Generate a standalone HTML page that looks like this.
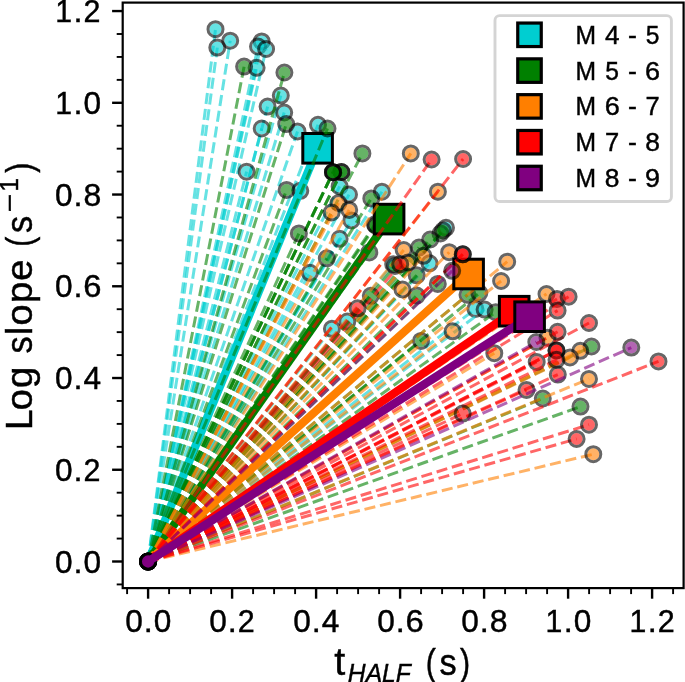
<!DOCTYPE html>
<html><head><meta charset="utf-8"><style>
html,body{margin:0;padding:0;background:#fff;}
svg{display:block;will-change:transform;}
text{font-family:"Liberation Sans",sans-serif;fill:#000;stroke:#000;stroke-width:0.45px;}
</style></head><body>
<svg width="685" height="682" viewBox="0 0 685 682">
<rect width="685" height="682" fill="#fff"/>
<clipPath id="ax"><rect x="122.7" y="2.6" width="560.9" height="585.5"/></clipPath>
<g clip-path="url(#ax)">
<line x1="148.1" y1="561.5" x2="215.5" y2="29.2" stroke="#00ced1" stroke-opacity="0.6" stroke-width="3.0" stroke-dasharray="11.1 4.8"/>
<circle cx="215.5" cy="29.2" r="6" fill="#00ced1" fill-opacity="0.6"/>
<circle cx="215.5" cy="29.2" r="7.5" fill="none" stroke="#000" stroke-opacity="0.6" stroke-width="3.0"/>
<line x1="148.1" y1="561.5" x2="230.2" y2="40.7" stroke="#00ced1" stroke-opacity="0.6" stroke-width="3.0" stroke-dasharray="11.1 4.8"/>
<circle cx="230.2" cy="40.7" r="6" fill="#00ced1" fill-opacity="0.6"/>
<circle cx="230.2" cy="40.7" r="7.5" fill="none" stroke="#000" stroke-opacity="0.6" stroke-width="3.0"/>
<line x1="148.1" y1="561.5" x2="217.3" y2="47.6" stroke="#00ced1" stroke-opacity="0.6" stroke-width="3.0" stroke-dasharray="11.1 4.8"/>
<circle cx="217.3" cy="47.6" r="6" fill="#00ced1" fill-opacity="0.6"/>
<circle cx="217.3" cy="47.6" r="7.5" fill="none" stroke="#000" stroke-opacity="0.6" stroke-width="3.0"/>
<line x1="148.1" y1="561.5" x2="261.7" y2="41.4" stroke="#00ced1" stroke-opacity="0.6" stroke-width="3.0" stroke-dasharray="11.1 4.8"/>
<circle cx="261.7" cy="41.4" r="6" fill="#00ced1" fill-opacity="0.6"/>
<circle cx="261.7" cy="41.4" r="7.5" fill="none" stroke="#000" stroke-opacity="0.6" stroke-width="3.0"/>
<line x1="148.1" y1="561.5" x2="258" y2="46.5" stroke="#00ced1" stroke-opacity="0.6" stroke-width="3.0" stroke-dasharray="11.1 4.8"/>
<circle cx="258" cy="46.5" r="6" fill="#00ced1" fill-opacity="0.6"/>
<circle cx="258" cy="46.5" r="7.5" fill="none" stroke="#000" stroke-opacity="0.6" stroke-width="3.0"/>
<line x1="148.1" y1="561.5" x2="266.1" y2="49" stroke="#00ced1" stroke-opacity="0.6" stroke-width="3.0" stroke-dasharray="11.1 4.8"/>
<circle cx="266.1" cy="49" r="6" fill="#00ced1" fill-opacity="0.6"/>
<circle cx="266.1" cy="49" r="7.5" fill="none" stroke="#000" stroke-opacity="0.6" stroke-width="3.0"/>
<line x1="148.1" y1="561.5" x2="256.6" y2="67.8" stroke="#00ced1" stroke-opacity="0.6" stroke-width="3.0" stroke-dasharray="11.1 4.8"/>
<circle cx="256.6" cy="67.8" r="6" fill="#00ced1" fill-opacity="0.6"/>
<circle cx="256.6" cy="67.8" r="7.5" fill="none" stroke="#000" stroke-opacity="0.6" stroke-width="3.0"/>
<line x1="148.1" y1="561.5" x2="280.8" y2="95.6" stroke="#00ced1" stroke-opacity="0.6" stroke-width="3.0" stroke-dasharray="11.1 4.8"/>
<circle cx="280.8" cy="95.6" r="6" fill="#00ced1" fill-opacity="0.6"/>
<circle cx="280.8" cy="95.6" r="7.5" fill="none" stroke="#000" stroke-opacity="0.6" stroke-width="3.0"/>
<line x1="148.1" y1="561.5" x2="267.6" y2="106.6" stroke="#00ced1" stroke-opacity="0.6" stroke-width="3.0" stroke-dasharray="11.1 4.8"/>
<circle cx="267.6" cy="106.6" r="6" fill="#00ced1" fill-opacity="0.6"/>
<circle cx="267.6" cy="106.6" r="7.5" fill="none" stroke="#000" stroke-opacity="0.6" stroke-width="3.0"/>
<line x1="148.1" y1="561.5" x2="284.2" y2="112.5" stroke="#00ced1" stroke-opacity="0.6" stroke-width="3.0" stroke-dasharray="11.1 4.8"/>
<circle cx="284.2" cy="112.5" r="6" fill="#00ced1" fill-opacity="0.6"/>
<circle cx="284.2" cy="112.5" r="7.5" fill="none" stroke="#000" stroke-opacity="0.6" stroke-width="3.0"/>
<line x1="148.1" y1="561.5" x2="261.7" y2="128.5" stroke="#00ced1" stroke-opacity="0.6" stroke-width="3.0" stroke-dasharray="11.1 4.8"/>
<circle cx="261.7" cy="128.5" r="6" fill="#00ced1" fill-opacity="0.6"/>
<circle cx="261.7" cy="128.5" r="7.5" fill="none" stroke="#000" stroke-opacity="0.6" stroke-width="3.0"/>
<line x1="148.1" y1="561.5" x2="297.5" y2="131.4" stroke="#00ced1" stroke-opacity="0.6" stroke-width="3.0" stroke-dasharray="11.1 4.8"/>
<circle cx="297.5" cy="131.4" r="6" fill="#00ced1" fill-opacity="0.6"/>
<circle cx="297.5" cy="131.4" r="7.5" fill="none" stroke="#000" stroke-opacity="0.6" stroke-width="3.0"/>
<line x1="148.1" y1="561.5" x2="318" y2="124.8" stroke="#00ced1" stroke-opacity="0.6" stroke-width="3.0" stroke-dasharray="11.1 4.8"/>
<circle cx="318" cy="124.8" r="6" fill="#00ced1" fill-opacity="0.6"/>
<circle cx="318" cy="124.8" r="7.5" fill="none" stroke="#000" stroke-opacity="0.6" stroke-width="3.0"/>
<line x1="148.1" y1="561.5" x2="246.6" y2="171.7" stroke="#00ced1" stroke-opacity="0.6" stroke-width="3.0" stroke-dasharray="11.1 4.8"/>
<circle cx="246.6" cy="171.7" r="6" fill="#00ced1" fill-opacity="0.6"/>
<circle cx="246.6" cy="171.7" r="7.5" fill="none" stroke="#000" stroke-opacity="0.6" stroke-width="3.0"/>
<line x1="148.1" y1="561.5" x2="300.3" y2="190.8" stroke="#00ced1" stroke-opacity="0.6" stroke-width="3.0" stroke-dasharray="11.1 4.8"/>
<circle cx="300.3" cy="190.8" r="6" fill="#00ced1" fill-opacity="0.6"/>
<circle cx="300.3" cy="190.8" r="7.5" fill="none" stroke="#000" stroke-opacity="0.6" stroke-width="3.0"/>
<line x1="148.1" y1="561.5" x2="339.6" y2="186.4" stroke="#00ced1" stroke-opacity="0.6" stroke-width="3.0" stroke-dasharray="11.1 4.8"/>
<circle cx="339.6" cy="186.4" r="6" fill="#00ced1" fill-opacity="0.6"/>
<circle cx="339.6" cy="186.4" r="7.5" fill="none" stroke="#000" stroke-opacity="0.6" stroke-width="3.0"/>
<line x1="148.1" y1="561.5" x2="349" y2="194.6" stroke="#00ced1" stroke-opacity="0.6" stroke-width="3.0" stroke-dasharray="11.1 4.8"/>
<circle cx="349" cy="194.6" r="6" fill="#00ced1" fill-opacity="0.6"/>
<circle cx="349" cy="194.6" r="7.5" fill="none" stroke="#000" stroke-opacity="0.6" stroke-width="3.0"/>
<line x1="148.1" y1="561.5" x2="381.9" y2="191.7" stroke="#00ced1" stroke-opacity="0.6" stroke-width="3.0" stroke-dasharray="11.1 4.8"/>
<circle cx="381.9" cy="191.7" r="6" fill="#00ced1" fill-opacity="0.6"/>
<circle cx="381.9" cy="191.7" r="7.5" fill="none" stroke="#000" stroke-opacity="0.6" stroke-width="3.0"/>
<line x1="148.1" y1="561.5" x2="351.4" y2="220.4" stroke="#00ced1" stroke-opacity="0.6" stroke-width="3.0" stroke-dasharray="11.1 4.8"/>
<circle cx="351.4" cy="220.4" r="6" fill="#00ced1" fill-opacity="0.6"/>
<circle cx="351.4" cy="220.4" r="7.5" fill="none" stroke="#000" stroke-opacity="0.6" stroke-width="3.0"/>
<line x1="148.1" y1="561.5" x2="339.6" y2="238.8" stroke="#00ced1" stroke-opacity="0.6" stroke-width="3.0" stroke-dasharray="11.1 4.8"/>
<circle cx="339.6" cy="238.8" r="6" fill="#00ced1" fill-opacity="0.6"/>
<circle cx="339.6" cy="238.8" r="7.5" fill="none" stroke="#000" stroke-opacity="0.6" stroke-width="3.0"/>
<line x1="148.1" y1="561.5" x2="309.9" y2="272.8" stroke="#00ced1" stroke-opacity="0.6" stroke-width="3.0" stroke-dasharray="11.1 4.8"/>
<circle cx="309.9" cy="272.8" r="6" fill="#00ced1" fill-opacity="0.6"/>
<circle cx="309.9" cy="272.8" r="7.5" fill="none" stroke="#000" stroke-opacity="0.6" stroke-width="3.0"/>
<line x1="148.1" y1="561.5" x2="446" y2="227.8" stroke="#00ced1" stroke-opacity="0.6" stroke-width="3.0" stroke-dasharray="11.1 4.8"/>
<circle cx="446" cy="227.8" r="6" fill="#00ced1" fill-opacity="0.6"/>
<circle cx="446" cy="227.8" r="7.5" fill="none" stroke="#000" stroke-opacity="0.6" stroke-width="3.0"/>
<line x1="148.1" y1="561.5" x2="429.5" y2="263.3" stroke="#00ced1" stroke-opacity="0.6" stroke-width="3.0" stroke-dasharray="11.1 4.8"/>
<circle cx="429.5" cy="263.3" r="6" fill="#00ced1" fill-opacity="0.6"/>
<circle cx="429.5" cy="263.3" r="7.5" fill="none" stroke="#000" stroke-opacity="0.6" stroke-width="3.0"/>
<line x1="148.1" y1="561.5" x2="393.2" y2="264.2" stroke="#00ced1" stroke-opacity="0.6" stroke-width="3.0" stroke-dasharray="11.1 4.8"/>
<circle cx="393.2" cy="264.2" r="6" fill="#00ced1" fill-opacity="0.6"/>
<circle cx="393.2" cy="264.2" r="7.5" fill="none" stroke="#000" stroke-opacity="0.6" stroke-width="3.0"/>
<line x1="148.1" y1="561.5" x2="475.4" y2="308.9" stroke="#00ced1" stroke-opacity="0.6" stroke-width="3.0" stroke-dasharray="11.1 4.8"/>
<circle cx="475.4" cy="308.9" r="6" fill="#00ced1" fill-opacity="0.6"/>
<circle cx="475.4" cy="308.9" r="7.5" fill="none" stroke="#000" stroke-opacity="0.6" stroke-width="3.0"/>
<line x1="148.1" y1="561.5" x2="484.6" y2="309.6" stroke="#00ced1" stroke-opacity="0.6" stroke-width="3.0" stroke-dasharray="11.1 4.8"/>
<circle cx="484.6" cy="309.6" r="6" fill="#00ced1" fill-opacity="0.6"/>
<circle cx="484.6" cy="309.6" r="7.5" fill="none" stroke="#000" stroke-opacity="0.6" stroke-width="3.0"/>
<line x1="148.1" y1="561.5" x2="347.3" y2="321.5" stroke="#00ced1" stroke-opacity="0.6" stroke-width="3.0" stroke-dasharray="11.1 4.8"/>
<circle cx="347.3" cy="321.5" r="6" fill="#00ced1" fill-opacity="0.6"/>
<circle cx="347.3" cy="321.5" r="7.5" fill="none" stroke="#000" stroke-opacity="0.6" stroke-width="3.0"/>
<line x1="148.1" y1="561.5" x2="331.9" y2="328.8" stroke="#00ced1" stroke-opacity="0.6" stroke-width="3.0" stroke-dasharray="11.1 4.8"/>
<circle cx="331.9" cy="328.8" r="6" fill="#00ced1" fill-opacity="0.6"/>
<circle cx="331.9" cy="328.8" r="7.5" fill="none" stroke="#000" stroke-opacity="0.6" stroke-width="3.0"/>
<circle cx="148.1" cy="561.5" r="7.6" fill="#00ced1" stroke="#000" stroke-width="2.9"/>
<line x1="148.1" y1="561.5" x2="317.6" y2="148.3" stroke="#00ced1" stroke-width="8.3"/>
<rect x="302.8" y="133.5" width="29.6" height="29.6" fill="#00ced1" stroke="#000" stroke-width="3.0"/>
<line x1="148.1" y1="561.5" x2="244.1" y2="66.6" stroke="#008000" stroke-opacity="0.6" stroke-width="3.0" stroke-dasharray="11.1 4.8"/>
<circle cx="244.1" cy="66.6" r="6" fill="#008000" fill-opacity="0.6"/>
<circle cx="244.1" cy="66.6" r="7.5" fill="none" stroke="#000" stroke-opacity="0.6" stroke-width="3.0"/>
<line x1="148.1" y1="561.5" x2="284.4" y2="72.5" stroke="#008000" stroke-opacity="0.6" stroke-width="3.0" stroke-dasharray="11.1 4.8"/>
<circle cx="284.4" cy="72.5" r="6" fill="#008000" fill-opacity="0.6"/>
<circle cx="284.4" cy="72.5" r="7.5" fill="none" stroke="#000" stroke-opacity="0.6" stroke-width="3.0"/>
<line x1="148.1" y1="561.5" x2="286.2" y2="124.1" stroke="#008000" stroke-opacity="0.6" stroke-width="3.0" stroke-dasharray="11.1 4.8"/>
<circle cx="286.2" cy="124.1" r="6" fill="#008000" fill-opacity="0.6"/>
<circle cx="286.2" cy="124.1" r="7.5" fill="none" stroke="#000" stroke-opacity="0.6" stroke-width="3.0"/>
<line x1="148.1" y1="561.5" x2="327.5" y2="128.5" stroke="#008000" stroke-opacity="0.6" stroke-width="3.0" stroke-dasharray="11.1 4.8"/>
<circle cx="327.5" cy="128.5" r="6" fill="#008000" fill-opacity="0.6"/>
<circle cx="327.5" cy="128.5" r="7.5" fill="none" stroke="#000" stroke-opacity="0.6" stroke-width="3.0"/>
<line x1="148.1" y1="561.5" x2="286.6" y2="189.9" stroke="#008000" stroke-opacity="0.6" stroke-width="3.0" stroke-dasharray="11.1 4.8"/>
<circle cx="286.6" cy="189.9" r="6" fill="#008000" fill-opacity="0.6"/>
<circle cx="286.6" cy="189.9" r="7.5" fill="none" stroke="#000" stroke-opacity="0.6" stroke-width="3.0"/>
<line x1="148.1" y1="561.5" x2="362.4" y2="153.4" stroke="#008000" stroke-opacity="0.6" stroke-width="3.0" stroke-dasharray="11.1 4.8"/>
<circle cx="362.4" cy="153.4" r="6" fill="#008000" fill-opacity="0.6"/>
<circle cx="362.4" cy="153.4" r="7.5" fill="none" stroke="#000" stroke-opacity="0.6" stroke-width="3.0"/>
<line x1="148.1" y1="561.5" x2="341.4" y2="172" stroke="#008000" stroke-opacity="0.6" stroke-width="3.0" stroke-dasharray="11.1 4.8"/>
<circle cx="341.4" cy="172" r="6" fill="#008000" fill-opacity="0.6"/>
<circle cx="341.4" cy="172" r="7.5" fill="none" stroke="#000" stroke-opacity="0.6" stroke-width="3.0"/>
<line x1="148.1" y1="561.5" x2="341.4" y2="172" stroke="#008000" stroke-opacity="0.6" stroke-width="3.0" stroke-dasharray="11.1 4.8"/>
<circle cx="341.4" cy="172" r="6" fill="#008000" fill-opacity="0.6"/>
<circle cx="341.4" cy="172" r="7.5" fill="none" stroke="#000" stroke-opacity="0.6" stroke-width="3.0"/>
<line x1="148.1" y1="561.5" x2="333" y2="172.2" stroke="#008000" stroke-opacity="0.6" stroke-width="3.0" stroke-dasharray="11.1 4.8"/>
<circle cx="333" cy="172.2" r="6" fill="#008000" fill-opacity="0.6"/>
<circle cx="333" cy="172.2" r="7.5" fill="none" stroke="#000" stroke-opacity="0.6" stroke-width="3.0"/>
<line x1="148.1" y1="561.5" x2="333" y2="172.2" stroke="#008000" stroke-opacity="0.6" stroke-width="3.0" stroke-dasharray="11.1 4.8"/>
<circle cx="333" cy="172.2" r="6" fill="#008000" fill-opacity="0.6"/>
<circle cx="333" cy="172.2" r="7.5" fill="none" stroke="#000" stroke-opacity="0.6" stroke-width="3.0"/>
<line x1="148.1" y1="561.5" x2="333" y2="172.2" stroke="#008000" stroke-opacity="0.6" stroke-width="3.0" stroke-dasharray="11.1 4.8"/>
<circle cx="333" cy="172.2" r="6" fill="#008000" fill-opacity="0.6"/>
<circle cx="333" cy="172.2" r="7.5" fill="none" stroke="#000" stroke-opacity="0.6" stroke-width="3.0"/>
<line x1="148.1" y1="561.5" x2="371.3" y2="198.4" stroke="#008000" stroke-opacity="0.6" stroke-width="3.0" stroke-dasharray="11.1 4.8"/>
<circle cx="371.3" cy="198.4" r="6" fill="#008000" fill-opacity="0.6"/>
<circle cx="371.3" cy="198.4" r="7.5" fill="none" stroke="#000" stroke-opacity="0.6" stroke-width="3.0"/>
<line x1="148.1" y1="561.5" x2="375" y2="224.3" stroke="#008000" stroke-opacity="0.6" stroke-width="3.0" stroke-dasharray="11.1 4.8"/>
<circle cx="375" cy="224.3" r="6" fill="#008000" fill-opacity="0.6"/>
<circle cx="375" cy="224.3" r="7.5" fill="none" stroke="#000" stroke-opacity="0.6" stroke-width="3.0"/>
<line x1="148.1" y1="561.5" x2="375.6" y2="225.5" stroke="#008000" stroke-opacity="0.6" stroke-width="3.0" stroke-dasharray="11.1 4.8"/>
<circle cx="375.6" cy="225.5" r="6" fill="#008000" fill-opacity="0.6"/>
<circle cx="375.6" cy="225.5" r="7.5" fill="none" stroke="#000" stroke-opacity="0.6" stroke-width="3.0"/>
<line x1="148.1" y1="561.5" x2="298.9" y2="233.4" stroke="#008000" stroke-opacity="0.6" stroke-width="3.0" stroke-dasharray="11.1 4.8"/>
<circle cx="298.9" cy="233.4" r="6" fill="#008000" fill-opacity="0.6"/>
<circle cx="298.9" cy="233.4" r="7.5" fill="none" stroke="#000" stroke-opacity="0.6" stroke-width="3.0"/>
<line x1="148.1" y1="561.5" x2="369.3" y2="252.4" stroke="#008000" stroke-opacity="0.6" stroke-width="3.0" stroke-dasharray="11.1 4.8"/>
<circle cx="369.3" cy="252.4" r="6" fill="#008000" fill-opacity="0.6"/>
<circle cx="369.3" cy="252.4" r="7.5" fill="none" stroke="#000" stroke-opacity="0.6" stroke-width="3.0"/>
<line x1="148.1" y1="561.5" x2="326.8" y2="258.3" stroke="#008000" stroke-opacity="0.6" stroke-width="3.0" stroke-dasharray="11.1 4.8"/>
<circle cx="326.8" cy="258.3" r="6" fill="#008000" fill-opacity="0.6"/>
<circle cx="326.8" cy="258.3" r="7.5" fill="none" stroke="#000" stroke-opacity="0.6" stroke-width="3.0"/>
<line x1="148.1" y1="561.5" x2="440.5" y2="233.5" stroke="#008000" stroke-opacity="0.6" stroke-width="3.0" stroke-dasharray="11.1 4.8"/>
<circle cx="440.5" cy="233.5" r="6" fill="#008000" fill-opacity="0.6"/>
<circle cx="440.5" cy="233.5" r="7.5" fill="none" stroke="#000" stroke-opacity="0.6" stroke-width="3.0"/>
<line x1="148.1" y1="561.5" x2="443" y2="230.5" stroke="#008000" stroke-opacity="0.6" stroke-width="3.0" stroke-dasharray="11.1 4.8"/>
<circle cx="443" cy="230.5" r="6" fill="#008000" fill-opacity="0.6"/>
<circle cx="443" cy="230.5" r="7.5" fill="none" stroke="#000" stroke-opacity="0.6" stroke-width="3.0"/>
<line x1="148.1" y1="561.5" x2="430.2" y2="239.5" stroke="#008000" stroke-opacity="0.6" stroke-width="3.0" stroke-dasharray="11.1 4.8"/>
<circle cx="430.2" cy="239.5" r="6" fill="#008000" fill-opacity="0.6"/>
<circle cx="430.2" cy="239.5" r="7.5" fill="none" stroke="#000" stroke-opacity="0.6" stroke-width="3.0"/>
<line x1="148.1" y1="561.5" x2="419" y2="247.5" stroke="#008000" stroke-opacity="0.6" stroke-width="3.0" stroke-dasharray="11.1 4.8"/>
<circle cx="419" cy="247.5" r="6" fill="#008000" fill-opacity="0.6"/>
<circle cx="419" cy="247.5" r="7.5" fill="none" stroke="#000" stroke-opacity="0.6" stroke-width="3.0"/>
<line x1="148.1" y1="561.5" x2="395" y2="266" stroke="#008000" stroke-opacity="0.6" stroke-width="3.0" stroke-dasharray="11.1 4.8"/>
<circle cx="395" cy="266" r="6" fill="#008000" fill-opacity="0.6"/>
<circle cx="395" cy="266" r="7.5" fill="none" stroke="#000" stroke-opacity="0.6" stroke-width="3.0"/>
<line x1="148.1" y1="561.5" x2="416.7" y2="275.3" stroke="#008000" stroke-opacity="0.6" stroke-width="3.0" stroke-dasharray="11.1 4.8"/>
<circle cx="416.7" cy="275.3" r="6" fill="#008000" fill-opacity="0.6"/>
<circle cx="416.7" cy="275.3" r="7.5" fill="none" stroke="#000" stroke-opacity="0.6" stroke-width="3.0"/>
<line x1="148.1" y1="561.5" x2="437.8" y2="283.9" stroke="#008000" stroke-opacity="0.6" stroke-width="3.0" stroke-dasharray="11.1 4.8"/>
<circle cx="437.8" cy="283.9" r="6" fill="#008000" fill-opacity="0.6"/>
<circle cx="437.8" cy="283.9" r="7.5" fill="none" stroke="#000" stroke-opacity="0.6" stroke-width="3.0"/>
<line x1="148.1" y1="561.5" x2="416.7" y2="295.6" stroke="#008000" stroke-opacity="0.6" stroke-width="3.0" stroke-dasharray="11.1 4.8"/>
<circle cx="416.7" cy="295.6" r="6" fill="#008000" fill-opacity="0.6"/>
<circle cx="416.7" cy="295.6" r="7.5" fill="none" stroke="#000" stroke-opacity="0.6" stroke-width="3.0"/>
<line x1="148.1" y1="561.5" x2="467.5" y2="294.8" stroke="#008000" stroke-opacity="0.6" stroke-width="3.0" stroke-dasharray="11.1 4.8"/>
<circle cx="467.5" cy="294.8" r="6" fill="#008000" fill-opacity="0.6"/>
<circle cx="467.5" cy="294.8" r="7.5" fill="none" stroke="#000" stroke-opacity="0.6" stroke-width="3.0"/>
<line x1="148.1" y1="561.5" x2="479.3" y2="293.1" stroke="#008000" stroke-opacity="0.6" stroke-width="3.0" stroke-dasharray="11.1 4.8"/>
<circle cx="479.3" cy="293.1" r="6" fill="#008000" fill-opacity="0.6"/>
<circle cx="479.3" cy="293.1" r="7.5" fill="none" stroke="#000" stroke-opacity="0.6" stroke-width="3.0"/>
<line x1="148.1" y1="561.5" x2="495.7" y2="312.2" stroke="#008000" stroke-opacity="0.6" stroke-width="3.0" stroke-dasharray="11.1 4.8"/>
<circle cx="495.7" cy="312.2" r="6" fill="#008000" fill-opacity="0.6"/>
<circle cx="495.7" cy="312.2" r="7.5" fill="none" stroke="#000" stroke-opacity="0.6" stroke-width="3.0"/>
<line x1="148.1" y1="561.5" x2="370.8" y2="295.8" stroke="#008000" stroke-opacity="0.6" stroke-width="3.0" stroke-dasharray="11.1 4.8"/>
<circle cx="370.8" cy="295.8" r="6" fill="#008000" fill-opacity="0.6"/>
<circle cx="370.8" cy="295.8" r="7.5" fill="none" stroke="#000" stroke-opacity="0.6" stroke-width="3.0"/>
<line x1="148.1" y1="561.5" x2="421" y2="340.9" stroke="#008000" stroke-opacity="0.6" stroke-width="3.0" stroke-dasharray="11.1 4.8"/>
<circle cx="421" cy="340.9" r="6" fill="#008000" fill-opacity="0.6"/>
<circle cx="421" cy="340.9" r="7.5" fill="none" stroke="#000" stroke-opacity="0.6" stroke-width="3.0"/>
<line x1="148.1" y1="561.5" x2="591.5" y2="346.5" stroke="#008000" stroke-opacity="0.6" stroke-width="3.0" stroke-dasharray="11.1 4.8"/>
<circle cx="591.5" cy="346.5" r="6" fill="#008000" fill-opacity="0.6"/>
<circle cx="591.5" cy="346.5" r="7.5" fill="none" stroke="#000" stroke-opacity="0.6" stroke-width="3.0"/>
<line x1="148.1" y1="561.5" x2="542.8" y2="398.5" stroke="#008000" stroke-opacity="0.6" stroke-width="3.0" stroke-dasharray="11.1 4.8"/>
<circle cx="542.8" cy="398.5" r="6" fill="#008000" fill-opacity="0.6"/>
<circle cx="542.8" cy="398.5" r="7.5" fill="none" stroke="#000" stroke-opacity="0.6" stroke-width="3.0"/>
<line x1="148.1" y1="561.5" x2="580.5" y2="406.6" stroke="#008000" stroke-opacity="0.6" stroke-width="3.0" stroke-dasharray="11.1 4.8"/>
<circle cx="580.5" cy="406.6" r="6" fill="#008000" fill-opacity="0.6"/>
<circle cx="580.5" cy="406.6" r="7.5" fill="none" stroke="#000" stroke-opacity="0.6" stroke-width="3.0"/>
<circle cx="148.1" cy="561.5" r="7.6" fill="#008000" stroke="#000" stroke-width="2.9"/>
<line x1="148.1" y1="561.5" x2="389.1" y2="219.1" stroke="#008000" stroke-width="8.3"/>
<rect x="374.3" y="204.3" width="29.6" height="29.6" fill="#008000" stroke="#000" stroke-width="3.0"/>
<line x1="148.1" y1="561.5" x2="338.5" y2="203" stroke="#ff7f00" stroke-opacity="0.6" stroke-width="3.0" stroke-dasharray="11.1 4.8"/>
<circle cx="338.5" cy="203" r="6" fill="#ff7f00" fill-opacity="0.6"/>
<circle cx="338.5" cy="203" r="7.5" fill="none" stroke="#000" stroke-opacity="0.6" stroke-width="3.0"/>
<line x1="148.1" y1="561.5" x2="331.6" y2="212.5" stroke="#ff7f00" stroke-opacity="0.6" stroke-width="3.0" stroke-dasharray="11.1 4.8"/>
<circle cx="331.6" cy="212.5" r="6" fill="#ff7f00" fill-opacity="0.6"/>
<circle cx="331.6" cy="212.5" r="7.5" fill="none" stroke="#000" stroke-opacity="0.6" stroke-width="3.0"/>
<line x1="148.1" y1="561.5" x2="349.2" y2="209.9" stroke="#ff7f00" stroke-opacity="0.6" stroke-width="3.0" stroke-dasharray="11.1 4.8"/>
<circle cx="349.2" cy="209.9" r="6" fill="#ff7f00" fill-opacity="0.6"/>
<circle cx="349.2" cy="209.9" r="7.5" fill="none" stroke="#000" stroke-opacity="0.6" stroke-width="3.0"/>
<line x1="148.1" y1="561.5" x2="410.8" y2="153.4" stroke="#ff7f00" stroke-opacity="0.6" stroke-width="3.0" stroke-dasharray="11.1 4.8"/>
<circle cx="410.8" cy="153.4" r="6" fill="#ff7f00" fill-opacity="0.6"/>
<circle cx="410.8" cy="153.4" r="7.5" fill="none" stroke="#000" stroke-opacity="0.6" stroke-width="3.0"/>
<line x1="148.1" y1="561.5" x2="437.9" y2="191.7" stroke="#ff7f00" stroke-opacity="0.6" stroke-width="3.0" stroke-dasharray="11.1 4.8"/>
<circle cx="437.9" cy="191.7" r="6" fill="#ff7f00" fill-opacity="0.6"/>
<circle cx="437.9" cy="191.7" r="7.5" fill="none" stroke="#000" stroke-opacity="0.6" stroke-width="3.0"/>
<line x1="148.1" y1="561.5" x2="403.7" y2="250" stroke="#ff7f00" stroke-opacity="0.6" stroke-width="3.0" stroke-dasharray="11.1 4.8"/>
<circle cx="403.7" cy="250" r="6" fill="#ff7f00" fill-opacity="0.6"/>
<circle cx="403.7" cy="250" r="7.5" fill="none" stroke="#000" stroke-opacity="0.6" stroke-width="3.0"/>
<line x1="148.1" y1="561.5" x2="423.5" y2="255.8" stroke="#ff7f00" stroke-opacity="0.6" stroke-width="3.0" stroke-dasharray="11.1 4.8"/>
<circle cx="423.5" cy="255.8" r="6" fill="#ff7f00" fill-opacity="0.6"/>
<circle cx="423.5" cy="255.8" r="7.5" fill="none" stroke="#000" stroke-opacity="0.6" stroke-width="3.0"/>
<line x1="148.1" y1="561.5" x2="408" y2="262.5" stroke="#ff7f00" stroke-opacity="0.6" stroke-width="3.0" stroke-dasharray="11.1 4.8"/>
<circle cx="408" cy="262.5" r="6" fill="#ff7f00" fill-opacity="0.6"/>
<circle cx="408" cy="262.5" r="7.5" fill="none" stroke="#000" stroke-opacity="0.6" stroke-width="3.0"/>
<line x1="148.1" y1="561.5" x2="449.2" y2="252.2" stroke="#ff7f00" stroke-opacity="0.6" stroke-width="3.0" stroke-dasharray="11.1 4.8"/>
<circle cx="449.2" cy="252.2" r="6" fill="#ff7f00" fill-opacity="0.6"/>
<circle cx="449.2" cy="252.2" r="7.5" fill="none" stroke="#000" stroke-opacity="0.6" stroke-width="3.0"/>
<line x1="148.1" y1="561.5" x2="507.2" y2="261.7" stroke="#ff7f00" stroke-opacity="0.6" stroke-width="3.0" stroke-dasharray="11.1 4.8"/>
<circle cx="507.2" cy="261.7" r="6" fill="#ff7f00" fill-opacity="0.6"/>
<circle cx="507.2" cy="261.7" r="7.5" fill="none" stroke="#000" stroke-opacity="0.6" stroke-width="3.0"/>
<line x1="148.1" y1="561.5" x2="501.1" y2="281" stroke="#ff7f00" stroke-opacity="0.6" stroke-width="3.0" stroke-dasharray="11.1 4.8"/>
<circle cx="501.1" cy="281" r="6" fill="#ff7f00" fill-opacity="0.6"/>
<circle cx="501.1" cy="281" r="7.5" fill="none" stroke="#000" stroke-opacity="0.6" stroke-width="3.0"/>
<line x1="148.1" y1="561.5" x2="546.5" y2="294" stroke="#ff7f00" stroke-opacity="0.6" stroke-width="3.0" stroke-dasharray="11.1 4.8"/>
<circle cx="546.5" cy="294" r="6" fill="#ff7f00" fill-opacity="0.6"/>
<circle cx="546.5" cy="294" r="7.5" fill="none" stroke="#000" stroke-opacity="0.6" stroke-width="3.0"/>
<line x1="148.1" y1="561.5" x2="402.5" y2="289.5" stroke="#ff7f00" stroke-opacity="0.6" stroke-width="3.0" stroke-dasharray="11.1 4.8"/>
<circle cx="402.5" cy="289.5" r="6" fill="#ff7f00" fill-opacity="0.6"/>
<circle cx="402.5" cy="289.5" r="7.5" fill="none" stroke="#000" stroke-opacity="0.6" stroke-width="3.0"/>
<line x1="148.1" y1="561.5" x2="452.6" y2="331.3" stroke="#ff7f00" stroke-opacity="0.6" stroke-width="3.0" stroke-dasharray="11.1 4.8"/>
<circle cx="452.6" cy="331.3" r="6" fill="#ff7f00" fill-opacity="0.6"/>
<circle cx="452.6" cy="331.3" r="7.5" fill="none" stroke="#000" stroke-opacity="0.6" stroke-width="3.0"/>
<line x1="148.1" y1="561.5" x2="547.5" y2="337.7" stroke="#ff7f00" stroke-opacity="0.6" stroke-width="3.0" stroke-dasharray="11.1 4.8"/>
<circle cx="547.5" cy="337.7" r="6" fill="#ff7f00" fill-opacity="0.6"/>
<circle cx="547.5" cy="337.7" r="7.5" fill="none" stroke="#000" stroke-opacity="0.6" stroke-width="3.0"/>
<line x1="148.1" y1="561.5" x2="580.3" y2="350.8" stroke="#ff7f00" stroke-opacity="0.6" stroke-width="3.0" stroke-dasharray="11.1 4.8"/>
<circle cx="580.3" cy="350.8" r="6" fill="#ff7f00" fill-opacity="0.6"/>
<circle cx="580.3" cy="350.8" r="7.5" fill="none" stroke="#000" stroke-opacity="0.6" stroke-width="3.0"/>
<line x1="148.1" y1="561.5" x2="570" y2="357.5" stroke="#ff7f00" stroke-opacity="0.6" stroke-width="3.0" stroke-dasharray="11.1 4.8"/>
<circle cx="570" cy="357.5" r="6" fill="#ff7f00" fill-opacity="0.6"/>
<circle cx="570" cy="357.5" r="7.5" fill="none" stroke="#000" stroke-opacity="0.6" stroke-width="3.0"/>
<line x1="148.1" y1="561.5" x2="494.3" y2="353.2" stroke="#ff7f00" stroke-opacity="0.6" stroke-width="3.0" stroke-dasharray="11.1 4.8"/>
<circle cx="494.3" cy="353.2" r="6" fill="#ff7f00" fill-opacity="0.6"/>
<circle cx="494.3" cy="353.2" r="7.5" fill="none" stroke="#000" stroke-opacity="0.6" stroke-width="3.0"/>
<line x1="148.1" y1="561.5" x2="589" y2="378.9" stroke="#ff7f00" stroke-opacity="0.6" stroke-width="3.0" stroke-dasharray="11.1 4.8"/>
<circle cx="589" cy="378.9" r="6" fill="#ff7f00" fill-opacity="0.6"/>
<circle cx="589" cy="378.9" r="7.5" fill="none" stroke="#000" stroke-opacity="0.6" stroke-width="3.0"/>
<line x1="148.1" y1="561.5" x2="593.3" y2="454.2" stroke="#ff7f00" stroke-opacity="0.6" stroke-width="3.0" stroke-dasharray="11.1 4.8"/>
<circle cx="593.3" cy="454.2" r="6" fill="#ff7f00" fill-opacity="0.6"/>
<circle cx="593.3" cy="454.2" r="7.5" fill="none" stroke="#000" stroke-opacity="0.6" stroke-width="3.0"/>
<circle cx="148.1" cy="561.5" r="7.6" fill="#ff7f00" stroke="#000" stroke-width="2.9"/>
<line x1="148.1" y1="561.5" x2="468.6" y2="274" stroke="#ff7f00" stroke-width="8.3"/>
<rect x="453.8" y="259.2" width="29.6" height="29.6" fill="#ff7f00" stroke="#000" stroke-width="3.0"/>
<line x1="148.1" y1="561.5" x2="431.6" y2="159.5" stroke="#ff0000" stroke-opacity="0.6" stroke-width="3.0" stroke-dasharray="11.1 4.8"/>
<circle cx="431.6" cy="159.5" r="6" fill="#ff0000" fill-opacity="0.6"/>
<circle cx="431.6" cy="159.5" r="7.5" fill="none" stroke="#000" stroke-opacity="0.6" stroke-width="3.0"/>
<line x1="148.1" y1="561.5" x2="463.1" y2="159" stroke="#ff0000" stroke-opacity="0.6" stroke-width="3.0" stroke-dasharray="11.1 4.8"/>
<circle cx="463.1" cy="159" r="6" fill="#ff0000" fill-opacity="0.6"/>
<circle cx="463.1" cy="159" r="7.5" fill="none" stroke="#000" stroke-opacity="0.6" stroke-width="3.0"/>
<line x1="148.1" y1="561.5" x2="400.2" y2="264.3" stroke="#ff0000" stroke-opacity="0.6" stroke-width="3.0" stroke-dasharray="11.1 4.8"/>
<circle cx="400.2" cy="264.3" r="6" fill="#ff0000" fill-opacity="0.6"/>
<circle cx="400.2" cy="264.3" r="7.5" fill="none" stroke="#000" stroke-opacity="0.6" stroke-width="3.0"/>
<line x1="148.1" y1="561.5" x2="462.8" y2="254.3" stroke="#ff0000" stroke-opacity="0.6" stroke-width="3.0" stroke-dasharray="11.1 4.8"/>
<circle cx="462.8" cy="254.3" r="6" fill="#ff0000" fill-opacity="0.6"/>
<circle cx="462.8" cy="254.3" r="7.5" fill="none" stroke="#000" stroke-opacity="0.6" stroke-width="3.0"/>
<line x1="148.1" y1="561.5" x2="462.8" y2="254.3" stroke="#ff0000" stroke-opacity="0.6" stroke-width="3.0" stroke-dasharray="11.1 4.8"/>
<circle cx="462.8" cy="254.3" r="6" fill="#ff0000" fill-opacity="0.6"/>
<circle cx="462.8" cy="254.3" r="7.5" fill="none" stroke="#000" stroke-opacity="0.6" stroke-width="3.0"/>
<line x1="148.1" y1="561.5" x2="557" y2="298.9" stroke="#ff0000" stroke-opacity="0.6" stroke-width="3.0" stroke-dasharray="11.1 4.8"/>
<circle cx="557" cy="298.9" r="6" fill="#ff0000" fill-opacity="0.6"/>
<circle cx="557" cy="298.9" r="7.5" fill="none" stroke="#000" stroke-opacity="0.6" stroke-width="3.0"/>
<line x1="148.1" y1="561.5" x2="568.6" y2="296.7" stroke="#ff0000" stroke-opacity="0.6" stroke-width="3.0" stroke-dasharray="11.1 4.8"/>
<circle cx="568.6" cy="296.7" r="6" fill="#ff0000" fill-opacity="0.6"/>
<circle cx="568.6" cy="296.7" r="7.5" fill="none" stroke="#000" stroke-opacity="0.6" stroke-width="3.0"/>
<line x1="148.1" y1="561.5" x2="557.6" y2="310.6" stroke="#ff0000" stroke-opacity="0.6" stroke-width="3.0" stroke-dasharray="11.1 4.8"/>
<circle cx="557.6" cy="310.6" r="6" fill="#ff0000" fill-opacity="0.6"/>
<circle cx="557.6" cy="310.6" r="7.5" fill="none" stroke="#000" stroke-opacity="0.6" stroke-width="3.0"/>
<line x1="148.1" y1="561.5" x2="589" y2="323" stroke="#ff0000" stroke-opacity="0.6" stroke-width="3.0" stroke-dasharray="11.1 4.8"/>
<circle cx="589" cy="323" r="6" fill="#ff0000" fill-opacity="0.6"/>
<circle cx="589" cy="323" r="7.5" fill="none" stroke="#000" stroke-opacity="0.6" stroke-width="3.0"/>
<line x1="148.1" y1="561.5" x2="557.6" y2="331.8" stroke="#ff0000" stroke-opacity="0.6" stroke-width="3.0" stroke-dasharray="11.1 4.8"/>
<circle cx="557.6" cy="331.8" r="6" fill="#ff0000" fill-opacity="0.6"/>
<circle cx="557.6" cy="331.8" r="7.5" fill="none" stroke="#000" stroke-opacity="0.6" stroke-width="3.0"/>
<line x1="148.1" y1="561.5" x2="556.5" y2="350.5" stroke="#ff0000" stroke-opacity="0.6" stroke-width="3.0" stroke-dasharray="11.1 4.8"/>
<circle cx="556.5" cy="350.5" r="6" fill="#ff0000" fill-opacity="0.6"/>
<circle cx="556.5" cy="350.5" r="7.5" fill="none" stroke="#000" stroke-opacity="0.6" stroke-width="3.0"/>
<line x1="148.1" y1="561.5" x2="556.5" y2="350.5" stroke="#ff0000" stroke-opacity="0.6" stroke-width="3.0" stroke-dasharray="11.1 4.8"/>
<circle cx="556.5" cy="350.5" r="6" fill="#ff0000" fill-opacity="0.6"/>
<circle cx="556.5" cy="350.5" r="7.5" fill="none" stroke="#000" stroke-opacity="0.6" stroke-width="3.0"/>
<line x1="148.1" y1="561.5" x2="557.8" y2="374.6" stroke="#ff0000" stroke-opacity="0.6" stroke-width="3.0" stroke-dasharray="11.1 4.8"/>
<circle cx="557.8" cy="374.6" r="6" fill="#ff0000" fill-opacity="0.6"/>
<circle cx="557.8" cy="374.6" r="7.5" fill="none" stroke="#000" stroke-opacity="0.6" stroke-width="3.0"/>
<line x1="148.1" y1="561.5" x2="357.6" y2="308.3" stroke="#ff0000" stroke-opacity="0.6" stroke-width="3.0" stroke-dasharray="11.1 4.8"/>
<circle cx="357.6" cy="308.3" r="6" fill="#ff0000" fill-opacity="0.6"/>
<circle cx="357.6" cy="308.3" r="7.5" fill="none" stroke="#000" stroke-opacity="0.6" stroke-width="3.0"/>
<line x1="148.1" y1="561.5" x2="536.7" y2="362" stroke="#ff0000" stroke-opacity="0.6" stroke-width="3.0" stroke-dasharray="11.1 4.8"/>
<circle cx="536.7" cy="362" r="6" fill="#ff0000" fill-opacity="0.6"/>
<circle cx="536.7" cy="362" r="7.5" fill="none" stroke="#000" stroke-opacity="0.6" stroke-width="3.0"/>
<line x1="148.1" y1="561.5" x2="556.5" y2="359.8" stroke="#ff0000" stroke-opacity="0.6" stroke-width="3.0" stroke-dasharray="11.1 4.8"/>
<circle cx="556.5" cy="359.8" r="6" fill="#ff0000" fill-opacity="0.6"/>
<circle cx="556.5" cy="359.8" r="7.5" fill="none" stroke="#000" stroke-opacity="0.6" stroke-width="3.0"/>
<line x1="148.1" y1="561.5" x2="526.5" y2="389.9" stroke="#ff0000" stroke-opacity="0.6" stroke-width="3.0" stroke-dasharray="11.1 4.8"/>
<circle cx="526.5" cy="389.9" r="6" fill="#ff0000" fill-opacity="0.6"/>
<circle cx="526.5" cy="389.9" r="7.5" fill="none" stroke="#000" stroke-opacity="0.6" stroke-width="3.0"/>
<line x1="148.1" y1="561.5" x2="658.5" y2="361.4" stroke="#ff0000" stroke-opacity="0.6" stroke-width="3.0" stroke-dasharray="11.1 4.8"/>
<circle cx="658.5" cy="361.4" r="6" fill="#ff0000" fill-opacity="0.6"/>
<circle cx="658.5" cy="361.4" r="7.5" fill="none" stroke="#000" stroke-opacity="0.6" stroke-width="3.0"/>
<line x1="148.1" y1="561.5" x2="589" y2="424.7" stroke="#ff0000" stroke-opacity="0.6" stroke-width="3.0" stroke-dasharray="11.1 4.8"/>
<circle cx="589" cy="424.7" r="6" fill="#ff0000" fill-opacity="0.6"/>
<circle cx="589" cy="424.7" r="7.5" fill="none" stroke="#000" stroke-opacity="0.6" stroke-width="3.0"/>
<line x1="148.1" y1="561.5" x2="576.6" y2="438.9" stroke="#ff0000" stroke-opacity="0.6" stroke-width="3.0" stroke-dasharray="11.1 4.8"/>
<circle cx="576.6" cy="438.9" r="6" fill="#ff0000" fill-opacity="0.6"/>
<circle cx="576.6" cy="438.9" r="7.5" fill="none" stroke="#000" stroke-opacity="0.6" stroke-width="3.0"/>
<line x1="148.1" y1="561.5" x2="462.7" y2="413.6" stroke="#ff0000" stroke-opacity="0.6" stroke-width="3.0" stroke-dasharray="11.1 4.8"/>
<circle cx="462.7" cy="413.6" r="6" fill="#ff0000" fill-opacity="0.6"/>
<circle cx="462.7" cy="413.6" r="7.5" fill="none" stroke="#000" stroke-opacity="0.6" stroke-width="3.0"/>
<circle cx="148.1" cy="561.5" r="7.6" fill="#ff0000" stroke="#000" stroke-width="2.9"/>
<line x1="148.1" y1="561.5" x2="514.2" y2="311.2" stroke="#ff0000" stroke-width="8.3"/>
<rect x="499.4" y="296.4" width="29.6" height="29.6" fill="#ff0000" stroke="#000" stroke-width="3.0"/>
<line x1="148.1" y1="561.5" x2="452.2" y2="270.8" stroke="#800080" stroke-opacity="0.6" stroke-width="3.0" stroke-dasharray="11.1 4.8"/>
<circle cx="452.2" cy="270.8" r="6" fill="#800080" fill-opacity="0.6"/>
<circle cx="452.2" cy="270.8" r="7.5" fill="none" stroke="#000" stroke-opacity="0.6" stroke-width="3.0"/>
<line x1="148.1" y1="561.5" x2="536.3" y2="342" stroke="#800080" stroke-opacity="0.6" stroke-width="3.0" stroke-dasharray="11.1 4.8"/>
<circle cx="536.3" cy="342" r="6" fill="#800080" fill-opacity="0.6"/>
<circle cx="536.3" cy="342" r="7.5" fill="none" stroke="#000" stroke-opacity="0.6" stroke-width="3.0"/>
<line x1="148.1" y1="561.5" x2="631.3" y2="347.6" stroke="#800080" stroke-opacity="0.6" stroke-width="3.0" stroke-dasharray="11.1 4.8"/>
<circle cx="631.3" cy="347.6" r="6" fill="#800080" fill-opacity="0.6"/>
<circle cx="631.3" cy="347.6" r="7.5" fill="none" stroke="#000" stroke-opacity="0.6" stroke-width="3.0"/>
<circle cx="148.1" cy="561.5" r="7.6" fill="#800080" stroke="#000" stroke-width="2.9"/>
<line x1="148.1" y1="561.5" x2="529.6" y2="316.7" stroke="#800080" stroke-width="8.3"/>
<rect x="514.8" y="301.9" width="29.6" height="29.6" fill="#800080" stroke="#000" stroke-width="3.0"/>
</g>
<rect x="122.7" y="2.6" width="560.9" height="585.5" fill="none" stroke="#000" stroke-width="2.2" stroke-linejoin="miter" stroke-linecap="square"/>
<line x1="127.1" y1="588.1" x2="127.1" y2="594.1" stroke="#000" stroke-width="1.9"/>
<line x1="148.1" y1="588.1" x2="148.1" y2="598.7" stroke="#000" stroke-width="2.4"/>
<line x1="169.1" y1="588.1" x2="169.1" y2="594.1" stroke="#000" stroke-width="1.9"/>
<line x1="190.1" y1="588.1" x2="190.1" y2="594.1" stroke="#000" stroke-width="1.9"/>
<line x1="211.1" y1="588.1" x2="211.1" y2="594.1" stroke="#000" stroke-width="1.9"/>
<line x1="232.1" y1="588.1" x2="232.1" y2="598.7" stroke="#000" stroke-width="2.4"/>
<line x1="253.1" y1="588.1" x2="253.1" y2="594.1" stroke="#000" stroke-width="1.9"/>
<line x1="274.1" y1="588.1" x2="274.1" y2="594.1" stroke="#000" stroke-width="1.9"/>
<line x1="295.1" y1="588.1" x2="295.1" y2="594.1" stroke="#000" stroke-width="1.9"/>
<line x1="316.1" y1="588.1" x2="316.1" y2="598.7" stroke="#000" stroke-width="2.4"/>
<line x1="337.1" y1="588.1" x2="337.1" y2="594.1" stroke="#000" stroke-width="1.9"/>
<line x1="358.1" y1="588.1" x2="358.1" y2="594.1" stroke="#000" stroke-width="1.9"/>
<line x1="379.1" y1="588.1" x2="379.1" y2="594.1" stroke="#000" stroke-width="1.9"/>
<line x1="400.1" y1="588.1" x2="400.1" y2="598.7" stroke="#000" stroke-width="2.4"/>
<line x1="421.1" y1="588.1" x2="421.1" y2="594.1" stroke="#000" stroke-width="1.9"/>
<line x1="442.1" y1="588.1" x2="442.1" y2="594.1" stroke="#000" stroke-width="1.9"/>
<line x1="463.1" y1="588.1" x2="463.1" y2="594.1" stroke="#000" stroke-width="1.9"/>
<line x1="484.1" y1="588.1" x2="484.1" y2="598.7" stroke="#000" stroke-width="2.4"/>
<line x1="505.1" y1="588.1" x2="505.1" y2="594.1" stroke="#000" stroke-width="1.9"/>
<line x1="526.1" y1="588.1" x2="526.1" y2="594.1" stroke="#000" stroke-width="1.9"/>
<line x1="547.1" y1="588.1" x2="547.1" y2="594.1" stroke="#000" stroke-width="1.9"/>
<line x1="568.1" y1="588.1" x2="568.1" y2="598.7" stroke="#000" stroke-width="2.4"/>
<line x1="589.1" y1="588.1" x2="589.1" y2="594.1" stroke="#000" stroke-width="1.9"/>
<line x1="610.1" y1="588.1" x2="610.1" y2="594.1" stroke="#000" stroke-width="1.9"/>
<line x1="631.1" y1="588.1" x2="631.1" y2="594.1" stroke="#000" stroke-width="1.9"/>
<line x1="652.1" y1="588.1" x2="652.1" y2="598.7" stroke="#000" stroke-width="2.4"/>
<line x1="673.1" y1="588.1" x2="673.1" y2="594.1" stroke="#000" stroke-width="1.9"/>
<line x1="122.7" y1="584.43" x2="116.7" y2="584.43" stroke="#000" stroke-width="1.9"/>
<line x1="122.7" y1="561.5" x2="112.1" y2="561.5" stroke="#000" stroke-width="2.4"/>
<line x1="122.7" y1="538.57" x2="116.7" y2="538.57" stroke="#000" stroke-width="1.9"/>
<line x1="122.7" y1="515.63" x2="116.7" y2="515.63" stroke="#000" stroke-width="1.9"/>
<line x1="122.7" y1="492.69" x2="116.7" y2="492.69" stroke="#000" stroke-width="1.9"/>
<line x1="122.7" y1="469.76" x2="112.1" y2="469.76" stroke="#000" stroke-width="2.4"/>
<line x1="122.7" y1="446.82" x2="116.7" y2="446.82" stroke="#000" stroke-width="1.9"/>
<line x1="122.7" y1="423.89" x2="116.7" y2="423.89" stroke="#000" stroke-width="1.9"/>
<line x1="122.7" y1="400.95" x2="116.7" y2="400.95" stroke="#000" stroke-width="1.9"/>
<line x1="122.7" y1="378.02" x2="112.1" y2="378.02" stroke="#000" stroke-width="2.4"/>
<line x1="122.7" y1="355.09" x2="116.7" y2="355.09" stroke="#000" stroke-width="1.9"/>
<line x1="122.7" y1="332.15" x2="116.7" y2="332.15" stroke="#000" stroke-width="1.9"/>
<line x1="122.7" y1="309.21" x2="116.7" y2="309.21" stroke="#000" stroke-width="1.9"/>
<line x1="122.7" y1="286.28" x2="112.1" y2="286.28" stroke="#000" stroke-width="2.4"/>
<line x1="122.7" y1="263.34" x2="116.7" y2="263.34" stroke="#000" stroke-width="1.9"/>
<line x1="122.7" y1="240.41" x2="116.7" y2="240.41" stroke="#000" stroke-width="1.9"/>
<line x1="122.7" y1="217.48" x2="116.7" y2="217.48" stroke="#000" stroke-width="1.9"/>
<line x1="122.7" y1="194.54" x2="112.1" y2="194.54" stroke="#000" stroke-width="2.4"/>
<line x1="122.7" y1="171.6" x2="116.7" y2="171.6" stroke="#000" stroke-width="1.9"/>
<line x1="122.7" y1="148.67" x2="116.7" y2="148.67" stroke="#000" stroke-width="1.9"/>
<line x1="122.7" y1="125.73" x2="116.7" y2="125.73" stroke="#000" stroke-width="1.9"/>
<line x1="122.7" y1="102.8" x2="112.1" y2="102.8" stroke="#000" stroke-width="2.4"/>
<line x1="122.7" y1="79.87" x2="116.7" y2="79.87" stroke="#000" stroke-width="1.9"/>
<line x1="122.7" y1="56.93" x2="116.7" y2="56.93" stroke="#000" stroke-width="1.9"/>
<line x1="122.7" y1="34" x2="116.7" y2="34" stroke="#000" stroke-width="1.9"/>
<line x1="122.7" y1="11.06" x2="112.1" y2="11.06" stroke="#000" stroke-width="2.4"/>
<text x="125.19" y="631.7" font-size="32" textLength="17.59" lengthAdjust="spacingAndGlyphs">0</text>
<text x="143.78" y="631.7" font-size="32" textLength="9.02" lengthAdjust="spacingAndGlyphs">.</text>
<text x="153.81" y="631.7" font-size="32" textLength="17.59" lengthAdjust="spacingAndGlyphs">0</text>
<text x="54.93" y="572.6" font-size="32" textLength="17.59" lengthAdjust="spacingAndGlyphs">0</text>
<text x="73.52" y="572.6" font-size="32" textLength="9.02" lengthAdjust="spacingAndGlyphs">.</text>
<text x="83.56" y="572.6" font-size="32" textLength="17.59" lengthAdjust="spacingAndGlyphs">0</text>
<text x="209.19" y="631.7" font-size="32" textLength="17.59" lengthAdjust="spacingAndGlyphs">0</text>
<text x="227.78" y="631.7" font-size="32" textLength="9.02" lengthAdjust="spacingAndGlyphs">.</text>
<text x="237.73" y="631.7" font-size="32" textLength="16.95" lengthAdjust="spacingAndGlyphs">2</text>
<text x="54.93" y="480.86" font-size="32" textLength="17.59" lengthAdjust="spacingAndGlyphs">0</text>
<text x="73.52" y="480.86" font-size="32" textLength="9.02" lengthAdjust="spacingAndGlyphs">.</text>
<text x="83.48" y="480.86" font-size="32" textLength="16.95" lengthAdjust="spacingAndGlyphs">2</text>
<text x="293.19" y="631.7" font-size="32" textLength="17.59" lengthAdjust="spacingAndGlyphs">0</text>
<text x="311.78" y="631.7" font-size="32" textLength="9.02" lengthAdjust="spacingAndGlyphs">.</text>
<text x="321.81" y="631.7" font-size="32" textLength="17.59" lengthAdjust="spacingAndGlyphs">4</text>
<text x="54.93" y="389.12" font-size="32" textLength="17.59" lengthAdjust="spacingAndGlyphs">0</text>
<text x="73.52" y="389.12" font-size="32" textLength="9.02" lengthAdjust="spacingAndGlyphs">.</text>
<text x="83.55" y="389.12" font-size="32" textLength="17.59" lengthAdjust="spacingAndGlyphs">4</text>
<text x="377.19" y="631.7" font-size="32" textLength="17.59" lengthAdjust="spacingAndGlyphs">0</text>
<text x="395.78" y="631.7" font-size="32" textLength="9.02" lengthAdjust="spacingAndGlyphs">.</text>
<text x="405.5" y="631.7" font-size="32" textLength="18.2" lengthAdjust="spacingAndGlyphs">6</text>
<text x="54.93" y="297.38" font-size="32" textLength="17.59" lengthAdjust="spacingAndGlyphs">0</text>
<text x="73.52" y="297.38" font-size="32" textLength="9.02" lengthAdjust="spacingAndGlyphs">.</text>
<text x="83.25" y="297.38" font-size="32" textLength="18.2" lengthAdjust="spacingAndGlyphs">6</text>
<text x="461.19" y="631.7" font-size="32" textLength="17.59" lengthAdjust="spacingAndGlyphs">0</text>
<text x="479.78" y="631.7" font-size="32" textLength="9.02" lengthAdjust="spacingAndGlyphs">.</text>
<text x="489.72" y="631.7" font-size="32" textLength="17.78" lengthAdjust="spacingAndGlyphs">8</text>
<text x="54.93" y="205.64" font-size="32" textLength="17.59" lengthAdjust="spacingAndGlyphs">0</text>
<text x="73.52" y="205.64" font-size="32" textLength="9.02" lengthAdjust="spacingAndGlyphs">.</text>
<text x="83.46" y="205.64" font-size="32" textLength="17.78" lengthAdjust="spacingAndGlyphs">8</text>
<text x="545.44" y="631.7" font-size="32" textLength="16.8" lengthAdjust="spacingAndGlyphs">1</text>
<text x="563.78" y="631.7" font-size="32" textLength="9.02" lengthAdjust="spacingAndGlyphs">.</text>
<text x="573.81" y="631.7" font-size="32" textLength="17.59" lengthAdjust="spacingAndGlyphs">0</text>
<text x="55.19" y="113.9" font-size="32" textLength="16.8" lengthAdjust="spacingAndGlyphs">1</text>
<text x="73.52" y="113.9" font-size="32" textLength="9.02" lengthAdjust="spacingAndGlyphs">.</text>
<text x="83.56" y="113.9" font-size="32" textLength="17.59" lengthAdjust="spacingAndGlyphs">0</text>
<text x="629.44" y="631.7" font-size="32" textLength="16.8" lengthAdjust="spacingAndGlyphs">1</text>
<text x="647.78" y="631.7" font-size="32" textLength="9.02" lengthAdjust="spacingAndGlyphs">.</text>
<text x="657.73" y="631.7" font-size="32" textLength="16.95" lengthAdjust="spacingAndGlyphs">2</text>
<text x="55.19" y="22.16" font-size="32" textLength="16.8" lengthAdjust="spacingAndGlyphs">1</text>
<text x="73.52" y="22.16" font-size="32" textLength="9.02" lengthAdjust="spacingAndGlyphs">.</text>
<text x="83.48" y="22.16" font-size="32" textLength="16.95" lengthAdjust="spacingAndGlyphs">2</text>
<text x="334.3" y="675.3" font-size="38" textLength="10.99" lengthAdjust="spacingAndGlyphs">t</text>
<text x="347.84" y="681.5" font-size="26" font-style="italic" textLength="63" lengthAdjust="spacingAndGlyphs">HALF</text>
<text x="425.82" y="675.3" font-size="37" textLength="10.08" lengthAdjust="spacingAndGlyphs">(</text>
<text x="439.58" y="675.3" font-size="37" textLength="17.16" lengthAdjust="spacingAndGlyphs">s</text>
<text x="459.93" y="675.3" font-size="37" textLength="10.08" lengthAdjust="spacingAndGlyphs">)</text>
<g transform="translate(31.9,427) rotate(-90)"><text x="-3.02" y="0" font-size="37" textLength="20.48" lengthAdjust="spacingAndGlyphs">L</text><text x="16.81" y="0" font-size="37" textLength="21.17" lengthAdjust="spacingAndGlyphs">o</text><text x="38.68" y="0" font-size="37" textLength="21.64" lengthAdjust="spacingAndGlyphs">g</text><text x="73.42" y="0" font-size="37" textLength="17.16" lengthAdjust="spacingAndGlyphs">s</text><text x="92" y="0" font-size="37" textLength="8.13" lengthAdjust="spacingAndGlyphs">l</text><text x="101.41" y="0" font-size="37" textLength="21.17" lengthAdjust="spacingAndGlyphs">o</text><text x="123.68" y="0" font-size="37" textLength="21.66" lengthAdjust="spacingAndGlyphs">p</text><text x="146" y="0" font-size="37" textLength="21.51" lengthAdjust="spacingAndGlyphs">e</text><text x="180.27" y="0" font-size="37" textLength="10.08" lengthAdjust="spacingAndGlyphs">(</text><text x="194.02" y="0" font-size="37" textLength="17.16" lengthAdjust="spacingAndGlyphs">s</text></g>
<g transform="translate(18.2,210.5) rotate(-90)"><text x="-1.56" y="0" font-size="25" textLength="18.43" lengthAdjust="spacingAndGlyphs">−</text><text x="18.75" y="0" font-size="25" textLength="13.72" lengthAdjust="spacingAndGlyphs">1</text></g>
<g transform="translate(31.9,172.6) rotate(-90)"><text x="-0.18" y="0" font-size="37" textLength="10.08" lengthAdjust="spacingAndGlyphs">)</text></g>
<rect x="495" y="15.6" width="176.4" height="185.9" rx="4.6" ry="4.6" fill="#fff" fill-opacity="0.8" stroke="#d4d4d4" stroke-width="2.9"/>
<rect x="517.75" y="23.05" width="23.5" height="23.5" fill="#00ced1" stroke="#000" stroke-width="3.2"/>
<text x="575.48" y="43.7" font-size="25.9" textLength="20.56" lengthAdjust="spacingAndGlyphs">M</text>
<text x="604.9" y="43.7" font-size="25.9" textLength="14.51" lengthAdjust="spacingAndGlyphs">4</text>
<text x="627.93" y="43.7" font-size="25.9" textLength="8.88" lengthAdjust="spacingAndGlyphs">-</text>
<text x="645.63" y="43.7" font-size="25.9" textLength="13.69" lengthAdjust="spacingAndGlyphs">5</text>
<rect x="517.75" y="58.85" width="23.5" height="23.5" fill="#008000" stroke="#000" stroke-width="3.2"/>
<text x="575.48" y="79.5" font-size="25.9" textLength="20.56" lengthAdjust="spacingAndGlyphs">M</text>
<text x="605.22" y="79.5" font-size="25.9" textLength="13.69" lengthAdjust="spacingAndGlyphs">5</text>
<text x="627.93" y="79.5" font-size="25.9" textLength="8.88" lengthAdjust="spacingAndGlyphs">-</text>
<text x="645.06" y="79.5" font-size="25.9" textLength="15.02" lengthAdjust="spacingAndGlyphs">6</text>
<rect x="517.75" y="94.65" width="23.5" height="23.5" fill="#ff7f00" stroke="#000" stroke-width="3.2"/>
<text x="575.48" y="115.3" font-size="25.9" textLength="20.56" lengthAdjust="spacingAndGlyphs">M</text>
<text x="604.65" y="115.3" font-size="25.9" textLength="15.02" lengthAdjust="spacingAndGlyphs">6</text>
<text x="627.93" y="115.3" font-size="25.9" textLength="8.88" lengthAdjust="spacingAndGlyphs">-</text>
<text x="645.43" y="115.3" font-size="25.9" textLength="14.19" lengthAdjust="spacingAndGlyphs">7</text>
<rect x="517.75" y="130.45" width="23.5" height="23.5" fill="#ff0000" stroke="#000" stroke-width="3.2"/>
<text x="575.48" y="151.1" font-size="25.9" textLength="20.56" lengthAdjust="spacingAndGlyphs">M</text>
<text x="605.01" y="151.1" font-size="25.9" textLength="14.19" lengthAdjust="spacingAndGlyphs">7</text>
<text x="627.93" y="151.1" font-size="25.9" textLength="8.88" lengthAdjust="spacingAndGlyphs">-</text>
<text x="645.24" y="151.1" font-size="25.9" textLength="14.67" lengthAdjust="spacingAndGlyphs">8</text>
<rect x="517.75" y="166.25" width="23.5" height="23.5" fill="#800080" stroke="#000" stroke-width="3.2"/>
<text x="575.48" y="186.9" font-size="25.9" textLength="20.56" lengthAdjust="spacingAndGlyphs">M</text>
<text x="604.83" y="186.9" font-size="25.9" textLength="14.67" lengthAdjust="spacingAndGlyphs">8</text>
<text x="627.93" y="186.9" font-size="25.9" textLength="8.88" lengthAdjust="spacingAndGlyphs">-</text>
<text x="645" y="186.9" font-size="25.9" textLength="14.99" lengthAdjust="spacingAndGlyphs">9</text>
</svg>
</body></html>
